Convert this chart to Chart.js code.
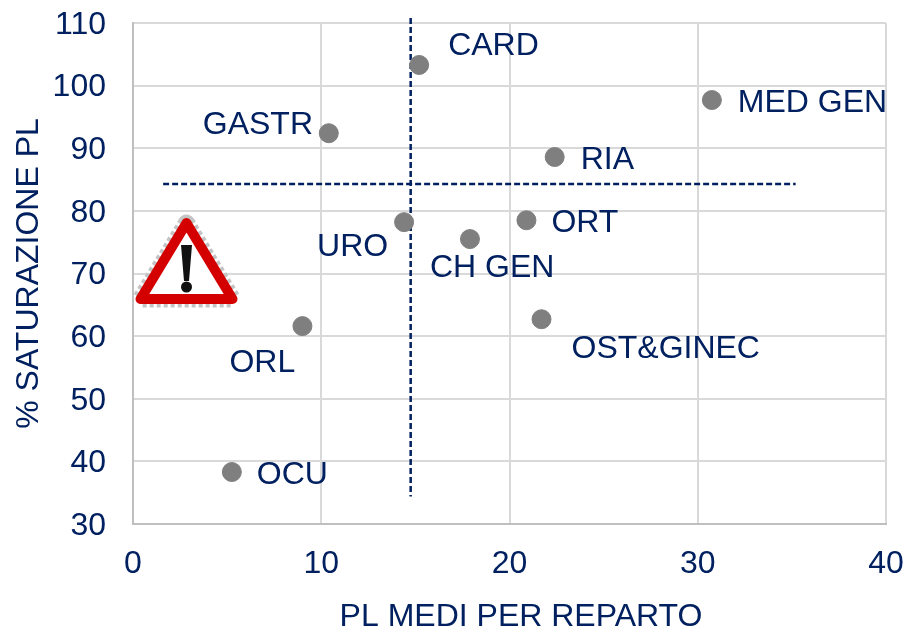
<!DOCTYPE html>
<html>
<head>
<meta charset="utf-8">
<script src="https://cdn.jsdelivr.net/npm/chart.js@4"></script>
<style>
    html, body { margin: 0; padding: 0; background: #fff; }
    canvas { display: block; }
</style>
</head>
<body>
<canvas id="scatterChart" width="905" height="629"></canvas>
<script>
// DATA
let reparti = ["CARD", "MED GEN", "GASTR", "RIA", "URO", "ORT", "CH GEN", "OST&GINEC", "ORL", "OCU"];
let plMedi = [15.2, 30.75, 10.4, 22.4, 14.4, 20.9, 17.9, 21.7, 9.0, 5.25];
let saturazione = [103.3, 97.7, 92.4, 88.6, 78.2, 78.5, 75.5, 62.7, 61.6, 38.3];

// reference lines
let mediaX = [14.75, 14.75];
let mediaXRange = [110.8, 34.4];
let mediaYRange = [1.6, 35.2];
let mediaY = [84.3, 84.3];

let xTicks = [0, 10, 20, 30, 40];
let yTicks = [30, 40, 50, 60, 70, 80, 90, 100, 110];

let navy = "#002060";
let fontName = "'Liberation Sans', Arial, sans-serif";
let fontSize = 32;

// label offset from its point, in pixels (text left edge, text middle)
let labelOffsets = {
    "CARD": [29, -19],
    "MED GEN": [26, 3],
    "GASTR": [-126, -8],
    "RIA": [26, 3],
    "URO": [-87, 25],
    "ORT": [25, 3],
    "CH GEN": [-40, 29],
    "OST&GINEC": [30, 30],
    "ORL": [-73, 37],
    "OCU": [25, 3]
};

// text next to each point
let pointLabels = {
    id: "pointLabels",
    afterDatasetsDraw(chart) {
        let ctx = chart.ctx;
        let points = chart.getDatasetMeta(0).data;
        ctx.save();
        ctx.font = fontSize + "px " + fontName;
        ctx.fillStyle = navy;
        ctx.textBaseline = "middle";
        points.forEach(function (p, i) {
            let off = labelOffsets[reparti[i]];
            ctx.fillText(reparti[i], p.x + off[0], p.y + off[1]);
        });
        // x axis title sits off centre in the original
        ctx.textAlign = "center";
        ctx.fillText("PL MEDI PER REPARTO", 521, 617);
        ctx.restore();
    }
};

// warning sign on top of the plot
let warningSign = {
    id: "warningSign",
    afterDraw(chart) {
        let ctx = chart.ctx;
        ctx.save();
        ctx.lineJoin = "round";

        function triangle() {
            ctx.beginPath();
            ctx.moveTo(186.5, 223);
            ctx.lineTo(140.5, 299);
            ctx.lineTo(232.5, 299);
            ctx.closePath();
        }

        // rough grey halo
        triangle();
        ctx.strokeStyle = "#c4c4c4";
        ctx.lineWidth = 17;
        ctx.setLineDash([4, 3]);
        ctx.stroke();
        ctx.setLineDash([]);

        triangle();
        ctx.fillStyle = "#ffffff";
        ctx.fill();
        ctx.strokeStyle = "#d40000";
        ctx.lineWidth = 10;
        ctx.stroke();

        // exclamation mark
        ctx.fillStyle = "#111111";
        ctx.beginPath();
        ctx.moveTo(181, 245);
        ctx.lineTo(192, 245);
        ctx.lineTo(189, 281);
        ctx.lineTo(184, 281);
        ctx.closePath();
        ctx.fill();
        ctx.beginPath();
        ctx.arc(186.5, 287, 5.5, 0, Math.PI * 2);
        ctx.fill();
        ctx.restore();
    }
};

let ctx1 = document.getElementById("scatterChart");

new Chart(ctx1, {
    type: "scatter",
    data: {
        datasets: [
            {
                label: "Reparti",
                data: plMedi.map(function (v, i) { return { x: v, y: saturazione[i] }; }),
                backgroundColor: "#7f7f7f",
                borderColor: "#7f7f7f",
                pointRadius: 9.5,
                pointHoverRadius: 9.5
            },
            {
                label: "Media PL",
                type: "line",
                data: mediaX.map(function (v, i) { return { x: v, y: mediaXRange[i] }; }),
                borderColor: navy,
                borderWidth: 2.5,
                borderDash: [6, 3],
                pointRadius: 0,
                clip: false
            },
            {
                label: "Media saturazione",
                type: "line",
                data: mediaYRange.map(function (v, i) { return { x: v, y: mediaY[i] }; }),
                borderColor: navy,
                borderWidth: 2.5,
                borderDash: [6, 3],
                pointRadius: 0,
                clip: false
            }
        ]
    },
    options: {
        responsive: false,
        animation: false,
        layout: { padding: { top: 23, right: 19, left: 0, bottom: 0 } },
        plugins: {
            legend: { display: false },
            tooltip: { enabled: false }
        },
        scales: {
            x: {
                type: "linear",
                min: 0,
                max: 40,
                afterFit(scale) {
                    scale.height = 105;
                    scale.paddingLeft = 0;
                    scale.paddingRight = 0;
                },
                afterBuildTicks(scale) { scale.ticks = xTicks.map(function (v) { return { value: v }; }); },
                grid: { color: "#d9d9d9", lineWidth: 2, drawTicks: false },
                border: { color: "#bfbfbf", width: 2 },
                ticks: { color: navy, font: { family: fontName, size: fontSize }, padding: 21, maxRotation: 0 }
            },
            y: {
                type: "linear",
                min: 30,
                max: 110,
                afterFit(scale) {
                    scale.width = 133;
                    scale.paddingTop = 0;
                    scale.paddingBottom = 0;
                },
                afterBuildTicks(scale) { scale.ticks = yTicks.map(function (v) { return { value: v }; }); },
                grid: { color: "#d9d9d9", lineWidth: 2, drawTicks: false },
                border: { color: "#bfbfbf", width: 2 },
                ticks: { color: navy, font: { family: fontName, size: fontSize }, padding: 27, labelOffset: 2 },
                title: {
                    display: true,
                    text: "% SATURAZIONE PL",
                    color: navy,
                    font: { family: fontName, size: fontSize },
                    padding: { top: 10, bottom: 0 }
                }
            }
        }
    },
    plugins: [pointLabels, warningSign]
});
</script>
</body>
</html>
